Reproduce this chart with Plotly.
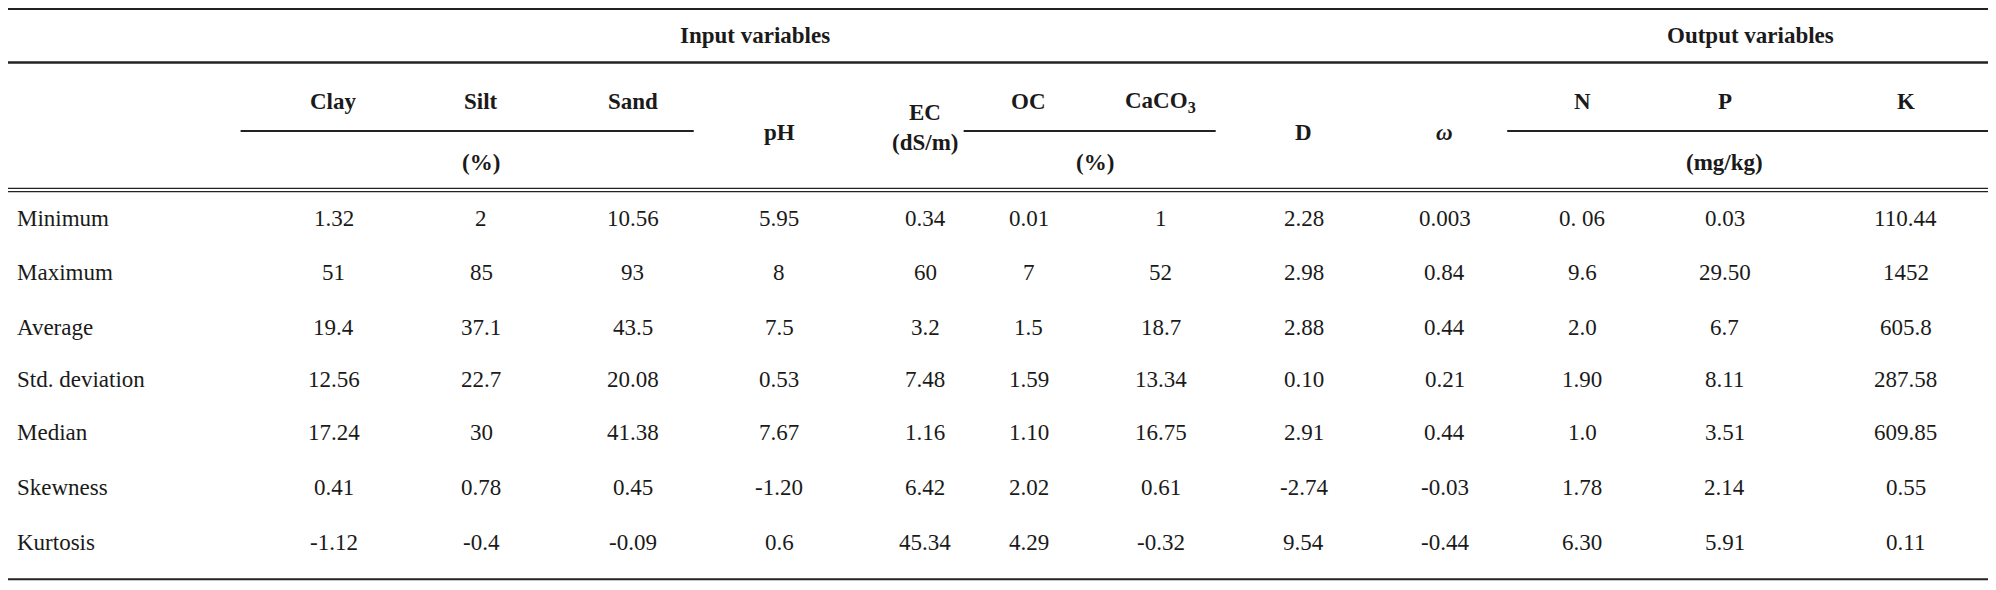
import plotly.graph_objects as go

# Données du tableau
row_labels = ['Minimum', 'Maximum', 'Average', 'Std. deviation', 'Median', 'Skewness', 'Kurtosis']
col_names = ['Clay', 'Silt', 'Sand', 'pH', 'EC', 'OC', 'CaCO<sub>3</sub>', 'D', '<i>ω</i>', 'N', 'P', 'K']
values = [
    ['1.32', '2', '10.56', '5.95', '0.34', '0.01', '1', '2.28', '0.003', '0. 06', '0.03', '110.44'],
    ['51', '85', '93', '8', '60', '7', '52', '2.98', '0.84', '9.6', '29.50', '1452'],
    ['19.4', '37.1', '43.5', '7.5', '3.2', '1.5', '18.7', '2.88', '0.44', '2.0', '6.7', '605.8'],
    ['12.56', '22.7', '20.08', '0.53', '7.48', '1.59', '13.34', '0.10', '0.21', '1.90', '8.11', '287.58'],
    ['17.24', '30', '41.38', '7.67', '1.16', '1.10', '16.75', '2.91', '0.44', '1.0', '3.51', '609.85'],
    ['0.41', '0.78', '0.45', '-1.20', '6.42', '2.02', '0.61', '-2.74', '-0.03', '1.78', '2.14', '0.55'],
    ['-1.12', '-0.4', '-0.09', '0.6', '45.34', '4.29', '-0.32', '9.54', '-0.44', '6.30', '5.91', '0.11'],
]

# Positions (coordonnées de l'image de référence)
col_x = [262, 378, 497, 612, 727, 808, 912, 1024, 1135, 1243, 1355, 1497]
row_y = [172, 214, 257, 298, 340, 383, 426]
police = 'Liberation Serif, Times New Roman, serif'
# la page a une marge de 8 px : on compense dans les plages des axes
k = 1996 / 1568
off = 8 / k
W_fig, H_fig = 1980, 574

fig = go.Figure()
ann = []

def texte(x, y, t, gras=False, xanchor='center', size=23):
    ann.append(dict(x=x, y=y, xref='x', yref='y', text=f'<b>{t}</b>' if gras else t,
                    showarrow=False, xanchor=xanchor, yanchor='middle',
                    font=dict(family=police, size=size, color='#1a1a1a')))

texte(593, 28, 'Input variables', gras=True)
texte(1375, 28, 'Output variables', gras=True)
for nom, x in zip(col_names, col_x):
    if nom in ('pH', 'D', '<i>ω</i>'):
        texte(x, 104, nom, gras=True)
    elif nom == 'EC':
        texte(x, 88, 'EC', gras=True)
        texte(x, 112, '(dS/m)', gras=True)
    else:
        texte(x, 80, nom, gras=True)
texte(378, 128, '(%)', gras=True)
texte(860, 128, '(%)', gras=True)
texte(1355, 128, '(mg/kg)', gras=True)

for r, (lab, y) in enumerate(zip(row_labels, row_y)):
    texte(12, y, lab, xanchor='left')
    for c, x in enumerate(col_x):
        texte(x, y, values[r][c])

def ligne(x0, x1, y, w=1.5):
    fig.add_shape(type='line', x0=x0, x1=x1, y0=y, y1=y, xref='x', yref='y',
                  line=dict(color='#222', width=w))

x_fin = off + W_fig / k
ligne(off, x_fin, 7, 2)
ligne(off, x_fin, 49, 2.5)
ligne(189, 545, 103, 2)
ligne(757, 955, 103, 2)
ligne(1184, x_fin, 103, 2)
ligne(off, x_fin, 148, 1.2)
ligne(off, x_fin, 150.5, 1.2)
ligne(off, x_fin, 455, 2)

fig.update_layout(
    annotations=ann, width=W_fig, height=H_fig,
    margin=dict(l=0, r=0, t=0, b=0),
    plot_bgcolor='white', paper_bgcolor='white',
    xaxis=dict(range=[off, x_fin], visible=False, fixedrange=True),
    yaxis=dict(range=[off + H_fig / k, off], visible=False, fixedrange=True),
    showlegend=False,
)
fig.write_html('out.html')
